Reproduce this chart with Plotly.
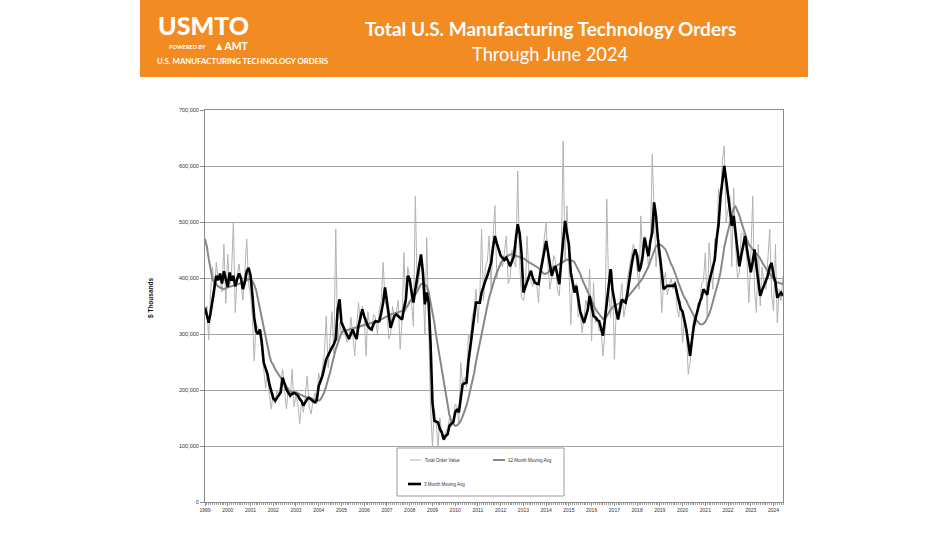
import plotly.graph_objects as go

# ---------------- data (values in $ thousands / 1000) ----------------
years = list(range(1999, 2025))
year_labels = [str(y) for y in years]
months = [f"{y}-{m:02d}-01" for y in years for m in range(1, 13)][:306]

total_order_value_k = [
    340, 350, 290, 375, 420, 365, 428, 395, 400, 375, 460, 355,   # 1999
    442, 385, 405, 500, 338, 405, 425, 395, 360, 410, 470, 390,   # 2000
    370, 330, 252, 320, 310, 300, 270, 240, 204, 235, 190, 166,   # 2001
    195, 175, 200, 190, 215, 237, 200, 166, 205, 185, 237, 170,   # 2002
    190, 175, 139, 180, 160, 195, 225, 170, 157, 180, 195, 175,   # 2003
    230, 215, 240, 265, 332, 240, 290, 340, 265, 487, 280, 320,   # 2004
    300, 320, 300, 285, 290, 330, 300, 261, 310, 356, 320, 350,   # 2005
    330, 261, 340, 310, 305, 335, 330, 300, 344, 360, 428, 360,   # 2006
    345, 291, 300, 350, 330, 340, 360, 273, 325, 445, 340, 420,   # 2007
    400, 345, 314, 546, 380, 400, 440, 390, 300, 472, 330, 170,   # 2008
    100, 165, 140, 100, 150, 120, 110, 125, 130, 150, 135, 145,   # 2009
    175, 170, 140, 249, 210, 222, 205, 300, 290, 330, 345, 380,   # 2010
    320, 370, 487, 360, 420, 430, 475, 380, 470, 529, 400, 420,   # 2011
    430, 420, 445, 475, 390, 400, 450, 430, 420, 591, 430, 365,   # 2012
    360, 380, 475, 400, 395, 385, 400, 390, 356, 420, 440, 470,   # 2013
    500, 420, 380, 400, 440, 430, 380, 368, 440, 645, 430, 529,   # 2014
    420, 317, 400, 380, 390, 330, 340, 302, 330, 360, 345, 416,   # 2015
    288, 392, 320, 330, 305, 310, 261, 300, 541, 380, 330, 413,   # 2016
    255, 350, 330, 360, 390, 330, 350, 400, 420, 440, 460, 450,   # 2017
    410, 380, 511, 430, 475, 460, 420, 450, 621, 530, 420, 460,   # 2018
    420, 338, 390, 410, 370, 385, 400, 380, 395, 350, 330, 360,   # 2019
    285, 330, 310, 228, 250, 300, 330, 315, 355, 350, 390, 395,   # 2020
    445, 330, 463, 420, 380, 470, 450, 560, 530, 610, 636, 500,   # 2021
    520, 546, 420, 560, 460, 400, 410, 480, 480, 460, 430, 356,   # 2022
    440, 546, 380, 338, 460, 350, 420, 390, 380, 430, 487, 370,   # 2023
    341, 460, 320, 380, 360, 404,                                 # 2024
]

moving_avg_12_k = [
    470, 455, 435, 415, 398, 392, 388, 385, 383, 382, 380, 382,
    383, 385, 386, 387, 388, 388, 389, 390, 392, 394, 396, 398,
    398, 394, 388, 378, 362, 345, 328, 310, 295, 278, 262, 250,
    245, 237, 232, 226, 222, 216, 210, 204, 201, 198, 196, 195,
    196, 194, 192, 190, 189, 188, 187, 185, 184, 183, 182, 181,
    181, 183, 189, 196, 207, 218, 231, 245, 260, 273, 283, 293,
    302, 305, 306, 307, 308, 309, 310, 311, 312, 313, 314, 315,
    316, 317, 318, 319, 320, 321, 322, 323, 324, 326, 328, 330,
    332, 334, 335, 336, 337, 338, 338, 339, 341, 343, 346, 350,
    358, 362, 366, 370, 376, 382, 389, 390, 388, 386, 375, 358,
    340, 320, 297, 277, 255, 237, 215, 195, 175, 155, 145, 139,
    136, 137, 140, 145, 153, 162, 172, 185, 200, 215, 230, 250,
    268, 280, 300, 318, 335, 350, 365, 378, 390, 400, 410, 418,
    425, 432, 436, 438, 440, 442, 442, 441, 440, 438, 437, 436,
    435, 433, 430, 428, 426, 424, 422, 421, 418, 414, 410, 407,
    408, 410, 414, 418, 420, 421, 423, 426, 428, 430, 432, 433,
    432, 432, 431, 428, 422, 416, 408, 398, 390, 382, 374, 367,
    360, 352, 345, 340, 335, 330, 327, 328, 332, 338, 344, 348,
    350, 352, 354, 356, 358, 360, 362, 366, 370, 374, 378, 382,
    386, 390, 395, 400, 406, 412, 420, 430, 440, 450, 457, 460,
    460, 458, 455, 451, 443, 433, 425, 418, 410, 400, 390, 380,
    372, 365, 360, 352, 345, 338, 332, 326, 322, 318, 317, 318,
    322, 328, 335, 345, 357, 368, 380, 395, 410, 433, 455, 470,
    485, 500, 515, 525, 528, 520, 512, 500, 488, 478, 468, 460,
    455, 450, 447, 444, 440, 435, 428, 422, 417, 412, 408, 404,
    398, 393, 392, 390, 389, 389,
]

moving_avg_3_k = [
    347, 330, 320, 338, 362, 386, 404, 396, 408, 390, 412, 398,
    384, 410, 395, 404, 385, 398, 408, 400, 380, 392, 412, 418,
    405, 368, 330, 305, 300, 308, 285, 249, 240, 228, 210, 196,
    185, 181, 186, 192, 196, 222, 212, 201, 195, 190, 193, 195,
    193, 190, 184, 180, 172, 178, 184, 186, 182, 180, 178, 182,
    207, 215, 225, 240, 255, 262, 270, 276, 282, 291, 344, 362,
    320, 312, 308, 298, 291, 300, 308, 298, 291, 314, 330, 344,
    332, 320, 314, 310, 308, 318, 323, 322, 323, 338, 356, 383,
    356, 330, 311, 322, 332, 335, 332, 328, 326, 345, 362, 404,
    398, 375, 356, 380, 401, 425, 442, 410, 353, 374, 356, 285,
    178, 145, 143, 142, 130, 124, 112, 118, 121, 136, 140, 142,
    160, 166, 160, 185, 210, 212, 213, 250, 279, 310, 332, 356,
    356, 356, 374, 386, 395, 404, 415, 427, 455, 475, 462, 451,
    440, 436, 432, 436, 430, 421, 430, 439, 470, 496, 480, 445,
    374, 385, 392, 405, 413, 400, 392, 390, 389, 410, 427, 445,
    466, 445, 427, 404, 415, 421, 405, 389, 430, 470, 502, 480,
    460, 410, 390, 374, 386, 365, 341, 330, 320, 332, 344, 368,
    350, 332, 330, 325, 323, 310, 297, 325, 356, 390, 416, 380,
    356, 340, 326, 345, 362, 358, 356, 374, 400, 421, 440, 451,
    440, 412, 420, 440, 472, 455, 439, 465, 481, 535, 510, 470,
    433, 410, 380, 383, 386, 386, 386, 386, 389, 375, 356, 345,
    340, 325, 308, 285, 261, 290, 315, 330, 345, 356, 365, 380,
    375, 370, 392, 405, 420, 433, 470, 495, 545, 570, 600, 575,
    552, 520, 493, 511, 481, 450, 421, 440, 460, 475, 451, 430,
    410, 430, 451, 421, 395, 368, 378, 386, 395, 404, 420, 427,
    405, 392, 365, 370, 374, 368,
]

y_ticks = [0, 100000, 200000, 300000, 400000, 500000, 600000, 700000]

# ---------------- layout helpers (pixel -> paper) ----------------
W, H = 948, 533
L, R, T, B = 205, 783, 110, 502


def px(x):
    return (x - L) / (R - L)


def py(y):
    return (B - y) / (B - T)


AX_FONT = "Liberation Sans, Arial, sans-serif"
HDR_FONT = "Lato, Open Sans, sans-serif"

fig = go.Figure()
fig.add_trace(go.Scatter(
    x=months, y=[v * 1000 for v in total_order_value_k], mode="lines",
    name="Total Order Value", line=dict(color="#B3B3B3", width=1),
))
fig.add_trace(go.Scatter(
    x=months, y=[v * 1000 for v in moving_avg_12_k], mode="lines",
    name="12 Month Moving Avg", line=dict(color="#888888", width=2),
))
fig.add_trace(go.Scatter(
    x=months, y=[v * 1000 for v in moving_avg_3_k], mode="lines",
    name="3 Month Moving Avg", line=dict(color="#000000", width=2.6),
))

shapes = [
    # orange header banner
    dict(type="rect", xref="paper", yref="paper", x0=px(140), x1=px(808),
         y0=py(77), y1=py(0), fillcolor="#F38B23", line=dict(width=0), layer="below"),
    # legend box
    dict(type="rect", xref="paper", yref="paper", x0=px(397), x1=px(564),
         y0=py(496), y1=py(448), fillcolor="white",
         line=dict(color="#9A9A9A", width=1), layer="above"),
    # legend swatches
    dict(type="line", xref="paper", yref="paper", x0=px(410), x1=px(421),
         y0=py(460), y1=py(460), line=dict(color="#B3B3B3", width=1), layer="above"),
    dict(type="line", xref="paper", yref="paper", x0=px(493), x1=px(505),
         y0=py(460), y1=py(460), line=dict(color="#888888", width=2), layer="above"),
    dict(type="line", xref="paper", yref="paper", x0=px(408), x1=px(421),
         y0=py(484), y1=py(484), line=dict(color="#000000", width=2.6), layer="above"),
]

annotations = [
    dict(text="Total U.S. Manufacturing Technology Orders", x=px(550), y=py(29),
         font=dict(family=HDR_FONT, size=19, color="white", weight="bold")),
    dict(text="Through June 2024", x=px(550), y=py(54),
         font=dict(family=HDR_FONT, size=18.3, color="white")),
    dict(text="USMTO", x=px(203), y=py(25),
         font=dict(family=HDR_FONT, size=25, color="white", weight=900)),
    dict(text="<i>POWERED BY</i>", x=px(187), y=py(46),
         font=dict(family=HDR_FONT, size=6, color="white", weight="bold")),
    dict(text="\u25B2AMT", x=px(231), y=py(46),
         font=dict(family=HDR_FONT, size=10.5, color="white", weight="bold")),
    dict(text="U.S. MANUFACTURING TECHNOLOGY ORDERS", x=px(242), y=py(61),
         font=dict(family=HDR_FONT, size=7.8, color="white", weight="bold")),
    dict(text="$ Thousands", x=px(151), y=py(298), textangle=-90,
         font=dict(family=AX_FONT, size=6.5, color="#111111", weight="bold")),
    dict(text="Total Order Value", x=px(423), y=py(460), xanchor="left",
         font=dict(family=AX_FONT, size=4.5, color="#333333")),
    dict(text="12 Month Moving Avg", x=px(506), y=py(460), xanchor="left",
         font=dict(family=AX_FONT, size=4.5, color="#333333")),
    dict(text="3 Month Moving Avg", x=px(422), y=py(484), xanchor="left",
         font=dict(family=AX_FONT, size=4.5, color="#333333")),
]
for a in annotations:
    a.setdefault("xref", "paper")
    a.setdefault("yref", "paper")
    a.setdefault("xanchor", "center")
    a.setdefault("yanchor", "middle")
    a["showarrow"] = False

fig.update_layout(
    width=W, height=H, autosize=False,
    margin=dict(l=L, r=W - R, t=T, b=H - B, pad=0),
    paper_bgcolor="white", plot_bgcolor="white",
    showlegend=False, hovermode=False,
    shapes=shapes, annotations=annotations,
    xaxis=dict(
        type="date", range=[months[0], months[-1]],
        tickvals=[f"{y}-01-01" for y in years], ticktext=year_labels,
        tickfont=dict(family=AX_FONT, size=5, color="#333333"),
        ticks="outside", ticklen=3, tickcolor="#8C8C8C",
        minor=dict(dtick="M1", ticks="outside", ticklen=1.5, tickcolor="#A0A0A0"),
        showline=True, linecolor="#8C8C8C", linewidth=1, mirror=True,
        showgrid=False, zeroline=False,
    ),
    yaxis=dict(
        range=[0, 700000], tickvals=y_ticks, tickformat=",d",
        tickfont=dict(family=AX_FONT, size=5.5, color="#333333"),
        ticks="outside", ticklen=4, tickcolor="#8C8C8C",
        showline=True, linecolor="#8C8C8C", linewidth=1, mirror=True,
        showgrid=True, gridcolor="#A3A3A3", gridwidth=1, zeroline=False,
    ),
)

fig.write_html(
    "out.html",
    config={"displayModeBar": False},
    post_script="document.body.style.margin='0';document.body.style.padding='0';",
)
